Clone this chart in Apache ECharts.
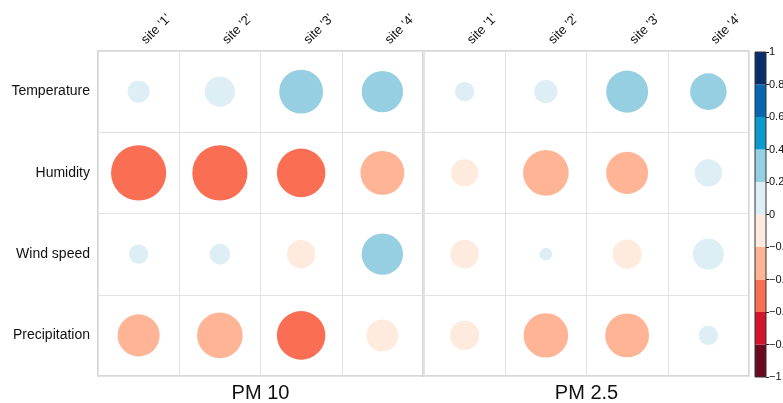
<!DOCTYPE html>
<html>
<head>
<meta charset="utf-8">
<script src="https://cdn.jsdelivr.net/npm/echarts@6/dist/echarts.min.js"></script>
<style>
  html, body { margin: 0; padding: 0; background: #fff; }
  #chart { width: 783px; height: 403px; }
</style>
</head>
<body>
<div id="chart"></div>
<script>
// Correlation of meteorological variables with PM concentrations at four sites
const sites = ["site '1'", "site '2'", "site '3'", "site '4'"];
const variables = ['Temperature', 'Humidity', 'Wind speed', 'Precipitation'];
const panels = ['PM 10', 'PM 2.5'];

// rows follow `variables`, columns follow `sites`
const pm10 = [
  [0.09, 0.17, 0.36, 0.32],
  [-0.57, -0.57, -0.44, -0.36],
  [0.07, 0.08, -0.15, 0.32],
  [-0.33, -0.39, -0.44, -0.19]
];
const pm25 = [
  [0.07, 0.10, 0.33, 0.25],
  [-0.14, -0.39, -0.33, 0.14],
  [-0.15, 0.03, -0.16, 0.18],
  [-0.16, -0.37, -0.36, 0.07]
];

// colour key: 10 equal bins from -1 to 1
const binEdges = [-1, -0.8, -0.6, -0.4, -0.2, 0, 0.2, 0.4, 0.6, 0.8, 1];
const binColors = ['#6b0a1e', '#d4142f', '#fa6f53', '#ffb595', '#ffebde',
                   '#ddeef5', '#97cfe2', '#0a9acb', '#0766b0', '#0a2e69'];

const GRID_TOP = 51, GRID_H = 325, PANEL_W = 325;
const panelLeft = [98, 424];
const cell = PANEL_W / sites.length;
const maxDiam = 0.9 * cell;

function toPoints(mat) {
  const pts = [];
  mat.forEach((row, r) => row.forEach((v, c) => pts.push([c, r, v])));
  return pts;
}

const pieces = binColors.map((col, i) => ({ gte: binEdges[i], lt: binEdges[i + 1], color: col }));
pieces[pieces.length - 1].lte = 1; delete pieces[pieces.length - 1].lt;

const keyBins = binColors.map((col, i) => [0, binEdges[i], binEdges[i + 1]]);

const labelFont = 'Liberation Sans, Arial, Helvetica, sans-serif';

const grids = panelLeft.map(l => ({
  left: l, top: GRID_TOP, width: PANEL_W, height: GRID_H,
  outerBoundsMode: 'none', containLabel: false,
  show: true, borderColor: '#c9c9c9', borderWidth: 1.5, backgroundColor: 'transparent'
}));
grids.push({ left: 755, top: 52, width: 11, height: 325, outerBoundsMode: 'none', containLabel: false });

const xAxes = panels.map((p, i) => ({
  gridIndex: i, type: 'category', data: sites, position: 'top',
  axisLine: { show: false }, axisTick: { show: false },
  axisLabel: { rotate: -45, margin: 4, fontSize: 13, color: '#111', fontFamily: labelFont,
               padding: [12, 0, 0, 7] },
  splitLine: { show: true, lineStyle: { color: '#e2e2e2', width: 1 } }
}));
xAxes.push({ gridIndex: 2, type: 'category', data: [''], show: false });

const yAxes = panels.map((p, i) => ({
  gridIndex: i, type: 'category', data: variables, inverse: true,
  axisLine: { show: false }, axisTick: { show: false },
  axisLabel: { show: i === 0, margin: 8, fontSize: 14, color: '#111', fontFamily: labelFont },
  splitLine: { show: true, lineStyle: { color: '#e2e2e2', width: 1 } }
}));
yAxes.push({
  gridIndex: 2, type: 'value', min: -1, max: 1, interval: 0.2, position: 'right',
  axisLine: { show: false },
  axisTick: { show: true, length: 3, lineStyle: { color: '#222' } },
  axisLabel: { margin: 3, fontSize: 11, color: '#111', fontFamily: labelFont,
    formatter: v => (Math.abs(v) < 1e-9 ? '0' : String(+v.toFixed(1)).replace('-', '\u2212')) },
  splitLine: { show: false }
});

const scatterSeries = [pm10, pm25].map((mat, i) => ({
  type: 'scatter', xAxisIndex: i, yAxisIndex: i,
  data: toPoints(mat),
  symbol: 'circle',
  symbolSize: d => maxDiam * Math.sqrt(Math.abs(d[2])),
  itemStyle: { opacity: 1 },
  silent: true
}));

const keySeries = {
  type: 'custom', xAxisIndex: 2, yAxisIndex: 2,
  data: keyBins,
  renderItem: (params, api) => {
    const top = api.coord([0, api.value(2)]);
    const bot = api.coord([0, api.value(1)]);
    const cs = params.coordSys;
    return {
      type: 'rect',
      shape: { x: cs.x, y: top[1], width: cs.width, height: bot[1] - top[1] },
      style: { fill: binColors[params.dataIndex], stroke: null }
    };
  },
  silent: true
};

// frame around the colour key
const keyFrame = {
  type: 'rect', x: 755, y: 52, shape: { x: 0, y: 0, width: 11, height: 325 },
  style: { fill: 'none', stroke: '#333', lineWidth: 1 }, z: 10
};

const panelTitles = panels.map((p, i) => ({
  type: 'text', x: panelLeft[i] + PANEL_W / 2, y: 393,
  style: { text: p, fontSize: 20, fill: '#111', fontFamily: labelFont,
           textAlign: 'center', textVerticalAlign: 'middle' }
}));

const chart = echarts.init(document.getElementById('chart'));
chart.setOption({
  animation: false,
  backgroundColor: '#fff',
  grid: grids,
  xAxis: xAxes,
  yAxis: yAxes,
  visualMap: {
    type: 'piecewise', show: false, dimension: 2, seriesIndex: [0, 1],
    pieces: pieces
  },
  series: scatterSeries.concat([keySeries]),
  graphic: [keyFrame].concat(panelTitles)
});
</script>
</body>
</html>
